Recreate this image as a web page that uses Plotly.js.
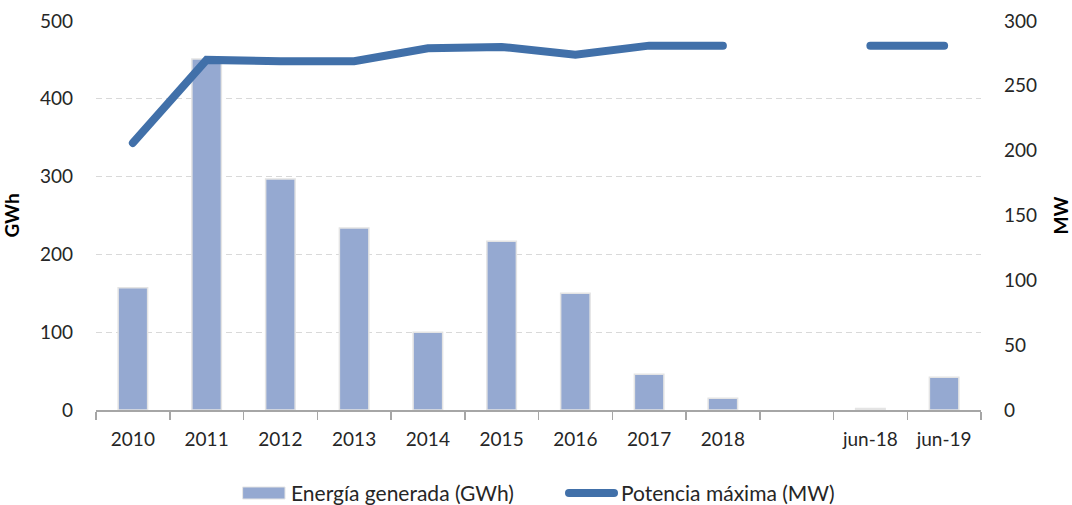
<!DOCTYPE html>
<html>
<head>
<meta charset="utf-8">
<script src="https://cdn.plot.ly/plotly-3.0.1.min.js"></script>
<style>
html,body{margin:0;padding:0;background:#fff;}
#chart{width:1072px;height:505px;}
.js-line{stroke-linecap:round;}
</style>
</head>
<body>
<div id="chart"></div>
<script>
const categories = ['2010','2011','2012','2013','2014','2015','2016','2017','2018',' ','jun-18','jun-19'];
const energiaGWh = [157, 451, 297, 234, 100, 217, 150, 46, 15, null, 2, 42];
const potenciaMW = [206, 270, 269, 269, 279, 280, 274, 281, 281, null, 281, 281];
const leftTicks = [0, 100, 200, 300, 400, 500];
const rightTicks = [0, 50, 100, 150, 200, 250, 300];
const seriesNames = ['Energía generada (GWh)', 'Potencia máxima (MW)'];

const font = 'Lato, "Open Sans", sans-serif';
const txt = '#262626';
const barColor = '#95A9D1';
const lineColor = '#4170A9';

const traces = [
  {
    type: 'bar', x: categories, y: energiaGWh, name: seriesNames[0],
    marker: {color: barColor, line: {color: '#e4e4e4', width: 1.5}},
    width: 0.4, yaxis: 'y', showlegend: false
  },
  {
    type: 'scatter', mode: 'lines', x: categories, y: potenciaMW, name: seriesNames[1],
    line: {color: lineColor, width: 8}, connectgaps: false, yaxis: 'y2', showlegend: false
  }
];

// legend drawn in paper coordinates (plot area: x 96..981, y 21..410)
const H = 389, W = 885;
const py = p => (410 - p) / H;
const px = p => (p - 96) / W;

const layout = {
  width: 1072, height: 505,
  margin: {l: 96, r: 91, t: 21, b: 95},
  paper_bgcolor: '#fff', plot_bgcolor: '#fff',
  font: {family: font, size: 19, color: txt},
  showlegend: false,
  xaxis: {
    type: 'category', tickmode: 'array', tickvals: categories, ticktext: categories,
    showgrid: false, showline: true, linecolor: '#a6a6a6', linewidth: 1.5,
    ticks: 'outside', tickson: 'boundaries', ticklen: 8, tickcolor: '#a6a6a6', tickwidth: 1.5,
    ticklabelstandoff: 12,
    tickfont: {family: font, size: 19, color: txt}, zeroline: false
  },
  yaxis: {
    range: [0, 500], tickmode: 'array', tickvals: leftTicks,
    showgrid: true, gridcolor: '#d9d9d9', griddash: '6px,4px', gridwidth: 1.3,
    zeroline: false, showline: false, ticks: '', ticklabelstandoff: 22,
    tickfont: {family: font, size: 19, color: txt},
    title: {text: '<b>GWh</b>', font: {family: font, size: 19, color: '#000'}, standoff: 20}
  },
  yaxis2: {
    range: [0, 300], tickmode: 'array', tickvals: rightTicks, overlaying: 'y', side: 'right',
    showgrid: false, zeroline: false, showline: false, ticks: '', ticklabelstandoff: 22,
    tickfont: {family: font, size: 19, color: txt},
    title: {text: '<b>MW</b>', font: {family: font, size: 19, color: '#000'}, standoff: 18}
  },
  shapes: [
    {type: 'rect', xref: 'paper', yref: 'paper', x0: px(243), x1: px(285), y0: py(499), y1: py(487),
     fillcolor: barColor, line: {color: '#e4e4e4', width: 1}},
    {type: 'line', xref: 'paper', yref: 'paper', x0: px(569), x1: px(614), y0: py(493), y1: py(493),
     line: {color: lineColor, width: 8}}
  ],
  annotations: [
    {xref: 'paper', yref: 'paper', x: px(289), y: py(492), xanchor: 'left', yanchor: 'middle',
     text: seriesNames[0], showarrow: false, font: {family: font, size: 21, color: txt}},
    {xref: 'paper', yref: 'paper', x: px(619), y: py(492), xanchor: 'left', yanchor: 'middle',
     text: seriesNames[1], showarrow: false, font: {family: font, size: 21, color: txt}}
  ]
};

Plotly.newPlot('chart', traces, layout, {displayModeBar: false, staticPlot: true}).then(() => {
  document.querySelectorAll('.shapelayer path').forEach(p => p.style.strokeLinecap = 'round');
});
</script>
</body>
</html>
